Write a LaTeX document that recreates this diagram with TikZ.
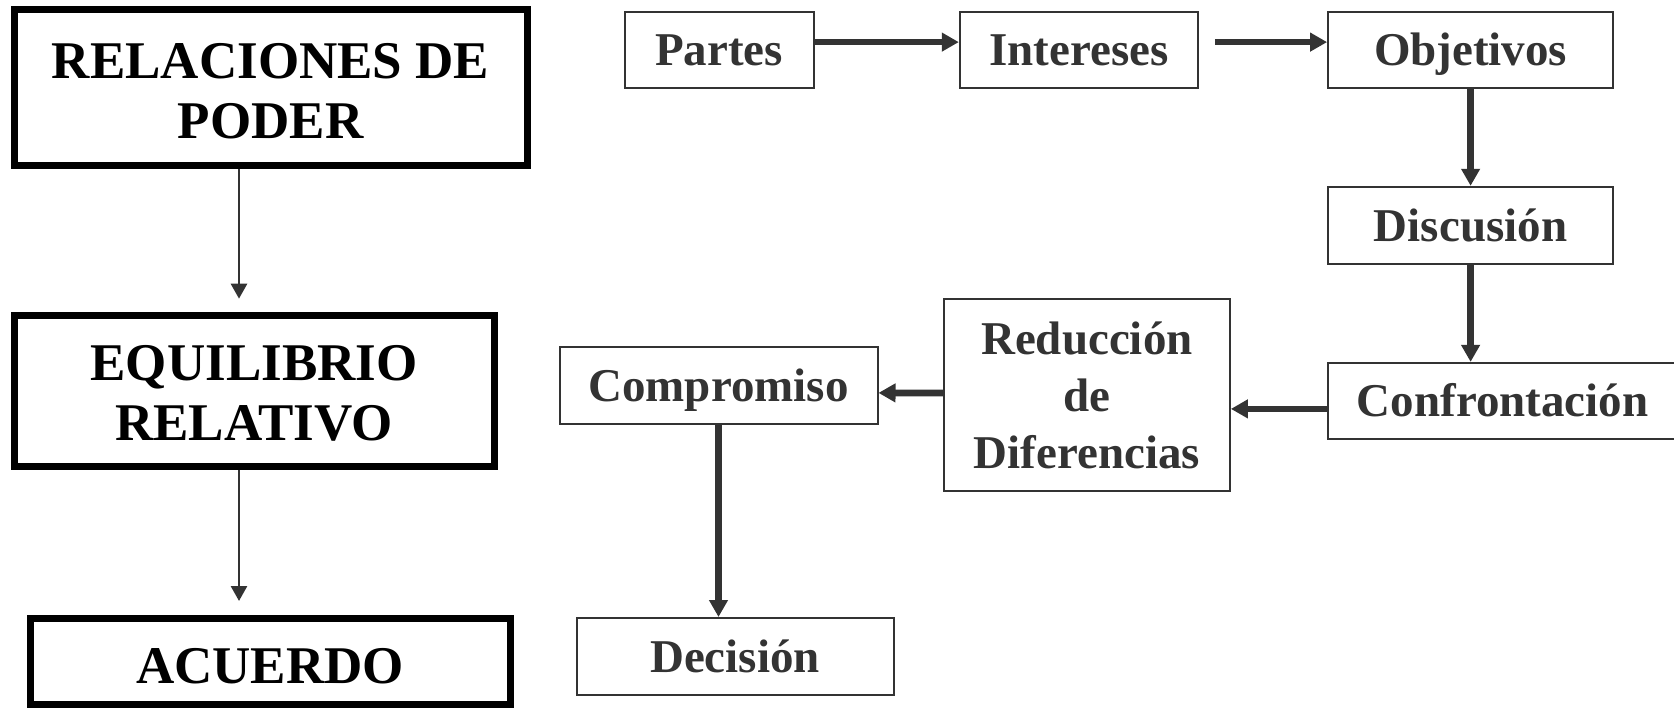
\documentclass[tikz,border=0pt]{standalone}
\usepackage{fontspec}
\setmainfont{Liberation Serif}
\usetikzlibrary{arrows.meta}
\definecolor{dk}{HTML}{333333}
\begin{document}
\begin{tikzpicture}[x=1pt,y=-1pt,
  bigbox/.style={draw=black,line width=7pt,inner sep=0pt,align=center,text=black,
    font=\fontsize{53}{60}\selectfont\bfseries},
  smallbox/.style={draw=dk,line width=2pt,inner sep=0pt,align=center,text=dk,
    font=\fontsize{47}{57}\selectfont\bfseries},
  oneline/.style={text height=40pt,text depth=8pt},
  thinarrow/.style={draw=dk,line width=2.7pt,-{Triangle[width=16pt,length=15pt]}},
  thickarrow/.style={draw=dk,line width=6.8pt,-{Triangle[width=18pt,length=17pt]}}]
\useasboundingbox (0,0) rectangle (1674,709);

\node[bigbox,minimum width=513pt,minimum height=155.3pt] (rel) at (270.6,87.5) {\rule{0pt}{43pt}RELACIONES DE\\PODER};
\node[bigbox,minimum width=479.8pt,minimum height=151pt] (eq) at (254.1,390.7) {\rule{0pt}{40pt}EQUILIBRIO\\RELATIVO};
\node[bigbox,minimum width=479.8pt,minimum height=86pt,text height=44pt,text depth=0pt] (acu) at (270.1,661.5) {ACUERDO};

\node[smallbox,oneline,minimum width=189pt,minimum height=76pt] (par) at (719,49.6) {Partes};
\node[smallbox,oneline,minimum width=238pt,minimum height=76pt] (int) at (1078.8,49.6) {Intereses};
\node[smallbox,oneline,minimum width=285pt,minimum height=76pt] (obj) at (1470.6,49.6) {Objetivos};
\node[smallbox,oneline,minimum width=285pt,minimum height=77pt] (dis) at (1470.6,225.3) {Discusión};
\node[smallbox,oneline,minimum width=349pt,minimum height=76pt] (con) at (1502.6,400.9) {Confrontación};
\node[smallbox,minimum width=286pt,minimum height=192pt] (red) at (1086.9,395) {Reducción\\de\\Diferencias};
\node[smallbox,oneline,minimum width=318pt,minimum height=77pt] (com) at (718.5,385.4) {Compromiso};
\node[smallbox,oneline,minimum width=317pt,minimum height=77pt] (dec) at (735,656.5) {Decisión};

\draw[thinarrow,shorten >=13pt] ([xshift=-31.6pt]rel.south) -- ([xshift=-31.6pt]rel.south |- eq.north);
\draw[thinarrow,shorten >=14pt] ([xshift=-15.1pt]eq.south) -- ([xshift=-15.1pt]eq.south |- acu.north);

\draw[thickarrow] ([yshift=7.5pt]par.east) -- ([yshift=7.5pt]int.west);
\draw[thickarrow] ([xshift=16pt,yshift=7.5pt]int.east) -- ([yshift=7.5pt]obj.west);
\draw[thickarrow] (obj.south) -- (dis.north);
\draw[thickarrow] (dis.south) -- (con.north -| dis.south);
\draw[thickarrow] ([yshift=-8pt]con.west) -- ([yshift=-13.9pt]red.east);
\draw[thickarrow] ([yshift=2pt]red.west) -- ([yshift=-7.5pt]com.east);
\draw[thickarrow] (com.south) -- (com.south |- dec.north);
\end{tikzpicture}
\end{document}
